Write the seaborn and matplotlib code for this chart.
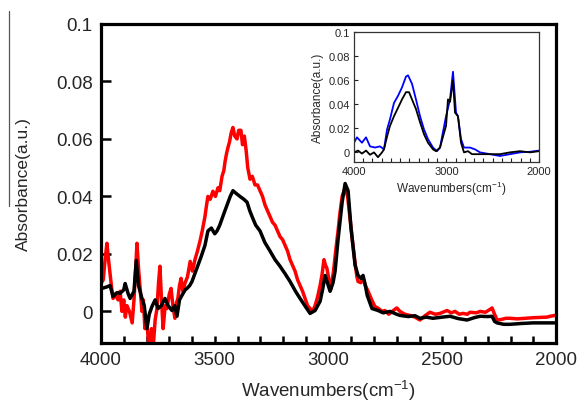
import numpy as np
import pandas as pd
import matplotlib
matplotlib.use("Agg")
import matplotlib.pyplot as plt
from matplotlib.lines import Line2D
from matplotlib.ticker import MultipleLocator
import seaborn as sns

# ---- main spectra: wavenumber (cm-1) and absorbance (a.u.) ----
red_wn = [3998, 3990, 3982, 3974, 3967, 3960, 3953, 3947, 3938, 3925, 3916, 3908, 3900,
          3893, 3886, 3875, 3863, 3855, 3848, 3842, 3835, 3828, 3820, 3814, 3807, 3800,
          3793, 3785, 3778, 3771, 3762, 3754, 3747, 3741, 3734, 3727, 3718, 3710, 3700,
          3692, 3684, 3675, 3668, 3662, 3655, 3648, 3640, 3631, 3620, 3608, 3598, 3587,
          3576, 3565, 3555, 3543, 3536, 3530, 3520, 3508, 3497, 3486, 3478, 3468, 3460,
          3455, 3448, 3442, 3435, 3428, 3420, 3412, 3402, 3395, 3385, 3378, 3370, 3362,
          3355, 3345, 3335, 3323, 3312, 3301, 3290, 3279, 3268, 3257, 3246, 3235, 3224,
          3213, 3202, 3191, 3180, 3169, 3158, 3147, 3136, 3125, 3114, 3103, 3092, 3081,
          3070, 3059, 3048, 3037, 3028, 3020, 3013, 3007, 2998, 2989, 2978, 2967, 2958,
          2950, 2940, 2927, 2916, 2905, 2894, 2883, 2875, 2870, 2858, 2848, 2838, 2826,
          2810, 2796, 2780, 2765, 2752, 2735, 2720, 2700, 2686, 2664, 2642, 2620, 2598,
          2576, 2554, 2530, 2510, 2479, 2460, 2444, 2425, 2409, 2390, 2378, 2350, 2334,
          2310, 2290, 2281, 2270, 2259, 2240, 2220, 2202, 2170, 2136, 2100, 2070, 2040,
          2026, 2004]
red_abs = [0.010, 0.011, 0.018, 0.0237, 0.018, 0.013, 0.008, 0.0045, 0.006, 0.004, 0.007,
           0.0, 0.004, -0.002, 0.002, 0.0, -0.004, 0.004, 0.014, 0.0237, 0.015, 0.008, 0.0,
           0.004, -0.006, -0.002, -0.009, -0.014, -0.006, -0.013, -0.003, 0.001, 0.010,
           0.0157, 0.004, -0.006, 0.002, 0.001, 0.006, 0.008, 0.002, -0.0024, 0.003, 0.0045,
           0.009, 0.0115, 0.007, 0.0098, 0.012, 0.0174, 0.014, 0.018, 0.021, 0.0244, 0.028,
           0.033, 0.037, 0.040, 0.039, 0.0418, 0.040, 0.043, 0.042, 0.047, 0.049, 0.052,
           0.055, 0.057, 0.059, 0.062, 0.064, 0.061, 0.060, 0.063, 0.063, 0.058, 0.061,
           0.056, 0.050, 0.046, 0.047, 0.044, 0.044, 0.042, 0.040, 0.037, 0.035, 0.033,
           0.031, 0.030, 0.028, 0.026, 0.025, 0.023, 0.021, 0.018, 0.016, 0.014, 0.011,
           0.009, 0.007, 0.0045, 0.002, 0.001, 0.0, 0.002, 0.005, 0.009, 0.013, 0.018,
           0.016, 0.015, 0.011, 0.008, 0.014, 0.022, 0.028, 0.034, 0.040, 0.043, 0.040,
           0.032, 0.024, 0.0167, 0.012, 0.0104, 0.010, 0.0115, 0.009, 0.007, 0.004, 0.0017,
           0.001, 0.0, 0.0003, -0.001, 0.0, 0.0012, 0.0, -0.001, -0.0014, -0.002, -0.003,
           -0.0015, -0.0003, -0.001, -0.0007, 0.0003, -0.0005, 0.0, -0.001, -0.0007, -0.001,
           -0.0003, -0.0005, 0.0, -0.0003, 0.0007, 0.0012, -0.001, -0.003, -0.0028, -0.0024,
           -0.0024, -0.0026, -0.0024, -0.0022, -0.0021, -0.002, -0.0017, -0.0014]

black_wn = [3996, 3975, 3960, 3947, 3930, 3916, 3900, 3894, 3880, 3872, 3855, 3845, 3835,
            3820, 3810, 3798, 3788, 3776, 3762, 3749, 3735, 3719, 3705, 3688, 3676, 3666,
            3655, 3644, 3630, 3622, 3610, 3600, 3588, 3574, 3560, 3543, 3530, 3515, 3500,
            3490, 3478, 3460, 3446, 3432, 3420, 3405, 3389, 3372, 3358, 3346, 3336, 3320,
            3301, 3280, 3257, 3235, 3213, 3190, 3169, 3145, 3125, 3100, 3081, 3059, 3037,
            3025, 3015, 3005, 2993, 2980, 2971, 2958, 2940, 2927, 2914, 2901, 2883, 2870,
            2858, 2848, 2838, 2830, 2809, 2782, 2760, 2730, 2700, 2686, 2650, 2620, 2598,
            2570, 2541, 2500, 2466, 2430, 2391, 2360, 2334, 2300, 2281, 2270, 2259, 2230,
            2202, 2150, 2101, 2050, 2004]
black_abs = [0.008, 0.0085, 0.009, 0.0052, 0.0065, 0.0063, 0.0075, 0.0097, 0.006, 0.0045,
             0.007, 0.0177, 0.009, 0.0045, 0.002, -0.006, -0.001, 0.0017, 0.004, 0.001,
             0.002, 0.0045, 0.002, 0.0003, 0.002, -0.0017, 0.004, 0.0056, 0.0075, 0.008,
             0.009, 0.0104, 0.013, 0.016, 0.019, 0.023, 0.028, 0.029, 0.027, 0.028, 0.030,
             0.034, 0.037, 0.040, 0.042, 0.041, 0.040, 0.039, 0.038, 0.035, 0.033, 0.030,
             0.028, 0.024, 0.021, 0.018, 0.0157, 0.013, 0.0104, 0.007, 0.0045, 0.0015,
             -0.0007, 0.0003, 0.0035, 0.008, 0.0125, 0.010, 0.007, 0.010, 0.014, 0.025,
             0.038, 0.0445, 0.042, 0.029, 0.016, 0.0125, 0.0115, 0.0125, 0.009, 0.0056,
             0.001, 0.0003, -0.0005, 0.0, -0.001, -0.0014, -0.0018, -0.0015, -0.0024, -0.002,
             -0.0024, -0.002, -0.0017, -0.0025, -0.003, -0.0022, -0.0017, -0.0018, -0.0017,
             -0.0035, -0.004, -0.0045, -0.0045, -0.0042, -0.004, -0.004, -0.004]

# ---- inset spectra ----
inset_blue_wn = [4000, 3968, 3914, 3870, 3827, 3773, 3719, 3676, 3643, 3611, 3568, 3524,
                 3481, 3438, 3416, 3373, 3330, 3286, 3243, 3200, 3146, 3103, 3070, 3038,
                 3005, 2962, 2930, 2897, 2876, 2843, 2811, 2746, 2692, 2638, 2530, 2422,
                 2314, 2205, 2097, 2000]
inset_blue_abs = [0.008, 0.0125, 0.008, 0.0125, 0.005, 0.004, 0.005, 0.0025, 0.019, 0.0275,
                  0.041, 0.047, 0.054, 0.063, 0.064, 0.057, 0.044, 0.030, 0.019, 0.011,
                  0.004, 0.001, 0.004, 0.017, 0.030, 0.044, 0.067, 0.033, 0.030, 0.011,
                  0.004, 0.004, 0.0025, 0.0, -0.0015, -0.003, -0.0015, 0.0, 0.0005, 0.0015]

inset_black_wn = [4000, 3957, 3914, 3870, 3827, 3784, 3741, 3697, 3676, 3643, 3611, 3568,
                  3524, 3481, 3438, 3405, 3373, 3330, 3286, 3243, 3200, 3146, 3113, 3070,
                  3038, 3005, 2984, 2962, 2930, 2908, 2876, 2843, 2811, 2768, 2724, 2638,
                  2530, 2422, 2314, 2205, 2097, 2000]
inset_black_abs = [0.0, 0.0015, -0.001, 0.0015, -0.002, 0.0, -0.004, 0.0, 0.0025, 0.013,
                   0.022, 0.030, 0.037, 0.044, 0.050, 0.050, 0.044, 0.036, 0.025, 0.015,
                   0.008, 0.0025, 0.001, 0.004, 0.013, 0.022, 0.044, 0.042, 0.060, 0.033,
                   0.030, 0.008, 0.0, 0.001, -0.0015, -0.0015, -0.0015, -0.0015, 0.0,
                   0.001, 0.0, 0.001]

# ---- tick values and labels ----
main_xticks = [4000, 3500, 3000, 2500, 2000]
main_yticks = [0, 0.02, 0.04, 0.06, 0.08, 0.1]
main_yticklabels = ["0", "0.02", "0.04", "0.06", "0.08", "0.1"]
inset_xticks = [4000, 3000, 2000]

sns.set_theme(style="ticks")
plt.rcParams["font.family"] = ["Liberation Sans", "DejaVu Sans"]
plt.rcParams["mathtext.default"] = "regular"

main_df = pd.concat([
    pd.DataFrame({"wavenumber": red_wn, "absorbance": red_abs, "sample": "red"}),
    pd.DataFrame({"wavenumber": black_wn, "absorbance": black_abs, "sample": "black"}),
], ignore_index=True)
inset_df = pd.concat([
    pd.DataFrame({"wavenumber": inset_blue_wn, "absorbance": inset_blue_abs, "sample": "blue"}),
    pd.DataFrame({"wavenumber": inset_black_wn, "absorbance": inset_black_abs, "sample": "black"}),
], ignore_index=True)

W, H = 581, 402
fig = plt.figure(figsize=(W / 100, H / 100), dpi=100)
fig.patch.set_facecolor("white")

# ---------------- main axes ----------------
ax = fig.add_axes([101 / W, 1 - 344 / H, 455 / W, 319 / H])
ax.set_facecolor("white")
sns.lineplot(data=main_df, x="wavenumber", y="absorbance", hue="sample",
             hue_order=["red", "black"], palette={"red": "#ff0000", "black": "#000000"},
             estimator=None, sort=False, linewidth=2.5, legend=False, ax=ax)
ax.set_xlim(4000, 2000)
ax.set_ylim(-0.011, 0.1)
ax.set_xticks(main_xticks)
ax.set_xticklabels([str(t) for t in main_xticks])
ax.xaxis.set_minor_locator(MultipleLocator(100))
ax.set_yticks(main_yticks)
ax.set_yticklabels(main_yticklabels)
ax.tick_params(axis="both", which="both", direction="in", width=1.8, color="black",
               labelsize=13.5, pad=6, top=False, right=False)
ax.tick_params(axis="y", which="major", length=7)
ax.tick_params(axis="x", which="both", length=5)
for sp in ax.spines.values():
    sp.set_linewidth(2.3)
    sp.set_color("black")
ax.set_xlabel("Wavenumbers(cm$^{-1}$)", fontsize=13.5)
ax.set_ylabel("Absorbance(a.u.)", fontsize=12.5)
ax.xaxis.set_label_coords(0.5, -0.108)
ax.yaxis.set_label_coords(-0.155, 0.5)

# ---------------- inset axes ----------------
ax2 = fig.add_axes([354 / W, 1 - 163 / H, 185 / W, 130 / H])
ax2.set_facecolor("white")
sns.lineplot(data=inset_df, x="wavenumber", y="absorbance", hue="sample",
             hue_order=["blue", "black"], palette={"blue": "#0000ff", "black": "#000000"},
             estimator=None, sort=False, linewidth=1.3, legend=False, ax=ax2)
ax2.set_xlim(4000, 2000)
ax2.set_ylim(-0.008, 0.1)
ax2.set_xticks(inset_xticks)
ax2.set_xticklabels([str(t) for t in inset_xticks])
ax2.xaxis.set_minor_locator(MultipleLocator(100))
ax2.set_yticks(main_yticks)
ax2.set_yticklabels(main_yticklabels)
ax2.tick_params(axis="both", which="both", direction="in", width=0.8, length=3,
                color="#222222", labelsize=8, pad=3, top=False, right=False)
for sp in ax2.spines.values():
    sp.set_linewidth(0.9)
    sp.set_color("#333333")
ax2.set_xlabel("Wavenumbers(cm$^{-1}$)", fontsize=8.5)
ax2.set_ylabel("Absorbance(a.u.)", fontsize=8.5)
ax2.xaxis.set_label_coords(0.524, -0.13)
ax2.yaxis.set_label_coords(-0.162, 0.5)

# thin rule at the left edge
fig.add_artist(Line2D([9 / W, 9 / W], [1 - 12 / H, 1 - 207 / H], color="#555555",
                      linewidth=0.9, transform=fig.transFigure))

fig.savefig("out.png", dpi=100, facecolor="white")
